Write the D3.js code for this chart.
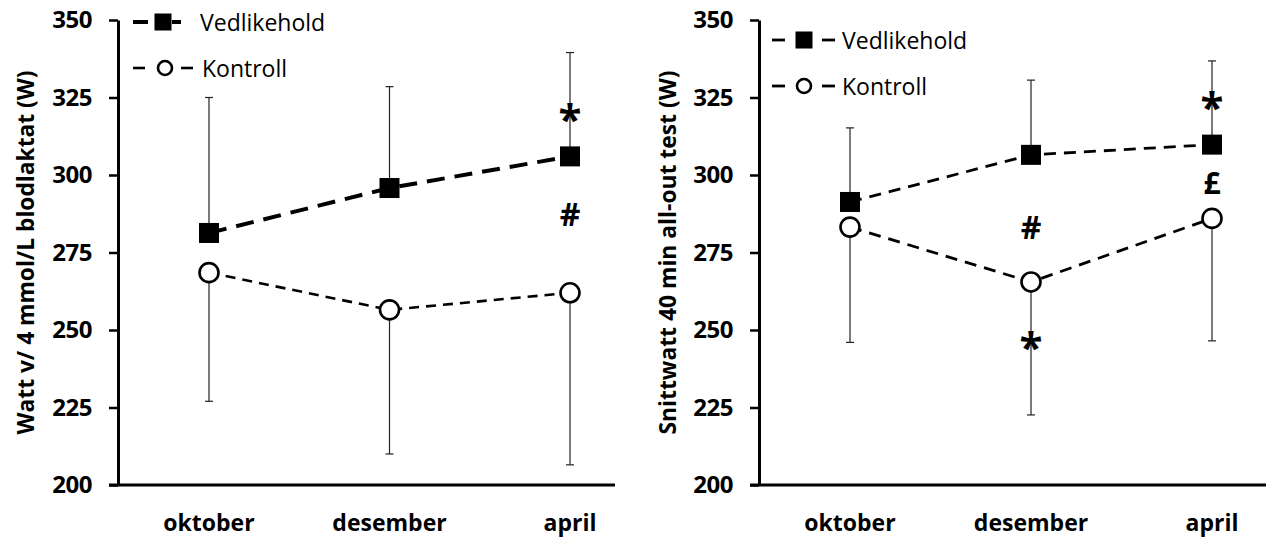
<!DOCTYPE html>
<html>
<head>
<meta charset="utf-8">
<script src="https://cdn.jsdelivr.net/npm/d3@7"></script>
<style>
  body { margin: 0; background: #fff; }
  text { font-family: "Open Sans", "Noto Sans", sans-serif; }
</style>
</head>
<body>
<svg id="chart" width="1266" height="539"></svg>
<script>
const months = ["oktober", "desember", "april"];
const yTicks = [200, 225, 250, 275, 300, 325, 350];

// left panel: watt at 4 mmol/L blood lactate
const leftVed = [281.3, 295.8, 306];
const leftVedUpper = [325, 328.5, 339.5];
const leftKon = [268.5, 256.5, 262];
const leftKonLower = [227, 210, 206.5];

// right panel: mean watt 40 min all-out test
const rightVed = [291.3, 306.5, 309.8];
const rightVedUpper = [315.2, 330.6, 336.8];
const rightKon = [283.2, 265.5, 286];
const rightKonLower = [246, 222.6, 246.5];

const svg = d3.select("#chart");

const panels = [
  {
    axisX: 118, xEnd: 615, first: 209, last: 570,
    title: "Watt v/ 4 mmol/L blodlaktat (W)", titleX: 25,
    ved: leftVed, vedUp: leftVedUpper, kon: leftKon, konLo: leftKonLower,
    vedWidth: 4, vedDash: "18,10", konWidth: 2.6, konDash: "10,7",
    legend: { dash1: [133, 148], sym: 163, dash2: [172, 181], textX: 200, y: 22, thick: true },
    notes: [
      { i: 2, v: 318.5, t: "*", size: 42 },
      { i: 2, v: 287.5, t: "#", size: 32 }
    ]
  },
  {
    axisX: 759, xEnd: 1266, first: 850, last: 1212,
    title: "Snittwatt 40 min all-out test (W)", titleX: 667,
    ved: rightVed, vedUp: rightVedUpper, kon: rightKon, konLo: rightKonLower,
    vedWidth: 2.8, vedDash: "12,8", konWidth: 2.8, konDash: "12,8",
    legend: { dash1: [772, 785], sym: 804, dash2: [822, 835], textX: 842, y: 40, thick: false },
    notes: [
      { i: 2, v: 322.5, t: "*", size: 42 },
      { i: 2, v: 297.5, t: "£", size: 30 },
      { i: 1, v: 283.5, t: "#", size: 32 },
      { i: 1, v: 245, t: "*", size: 42 }
    ]
  }
];

const y = d3.scaleLinear().domain([200, 350]).range([485, 20]);

panels.forEach(p => {
  const x = d3.scalePoint().domain(months).range([p.first, p.last]);
  const g = svg.append("g");

  // y axis
  const yAxis = g.append("g")
    .attr("transform", `translate(${p.axisX},0)`)
    .call(d3.axisLeft(y).tickValues(yTicks).tickSize(9).tickPadding(17).tickSizeOuter(0));
  yAxis.select(".domain").attr("stroke-width", 3);
  yAxis.selectAll(".tick line").attr("stroke-width", 2.5);
  yAxis.selectAll(".tick text")
    .attr("font-size", 24).attr("font-weight", "bold").attr("fill", "#000")
    .attr("letter-spacing", -0.5);

  // x axis line
  g.append("line")
    .attr("x1", p.axisX - 9).attr("x2", p.xEnd)
    .attr("y1", y(200)).attr("y2", y(200))
    .attr("stroke", "#000").attr("stroke-width", 3);

  g.selectAll(".xlab")
    .data(months)
    .enter()
    .append("text")
    .attr("x", d => x(d))
    .attr("y", 531)
    .attr("text-anchor", "middle")
    .attr("font-size", 23)
    .attr("font-weight", "bold")
    .text(d => d);

  // y title
  g.append("text")
    .attr("transform", `translate(${p.titleX},${y(275)}) rotate(-90)`)
    .attr("text-anchor", "middle")
    .attr("dominant-baseline", "central")
    .attr("font-size", 23)
    .attr("font-weight", "bold")
    .attr("textLength", 364)
    .attr("lengthAdjust", "spacingAndGlyphs")
    .text(p.title);

  // error bars: + for Vedlikehold, - for Kontroll
  const bars = months.map((m, i) => ({ m, from: p.ved[i], to: p.vedUp[i] }))
    .concat(months.map((m, i) => ({ m, from: p.kon[i], to: p.konLo[i] })));
  bars.forEach(b => {
    g.append("line")
      .attr("x1", x(b.m)).attr("x2", x(b.m))
      .attr("y1", y(b.from)).attr("y2", y(b.to))
      .attr("stroke", "#222").attr("stroke-width", 1.2);
    g.append("line")
      .attr("x1", x(b.m) - 4).attr("x2", x(b.m) + 4)
      .attr("y1", y(b.to)).attr("y2", y(b.to))
      .attr("stroke", "#222").attr("stroke-width", 1.2);
  });

  const line = d3.line().x((d, i) => x(months[i])).y(d => y(d));

  g.append("path")
    .datum(p.kon)
    .attr("d", line)
    .attr("fill", "none")
    .attr("stroke", "#000")
    .attr("stroke-width", p.konWidth)
    .attr("stroke-dasharray", p.konDash);

  g.append("path")
    .datum(p.ved)
    .attr("d", line)
    .attr("fill", "none")
    .attr("stroke", "#000")
    .attr("stroke-width", p.vedWidth)
    .attr("stroke-dasharray", p.vedDash);

  g.selectAll(".kon")
    .data(p.kon)
    .enter()
    .append("circle")
    .attr("cx", (d, i) => x(months[i]))
    .attr("cy", d => y(d))
    .attr("r", 9.5)
    .attr("fill", "#fff")
    .attr("stroke", "#000")
    .attr("stroke-width", 2.6);

  g.selectAll(".ved")
    .data(p.ved)
    .enter()
    .append("rect")
    .attr("x", (d, i) => x(months[i]) - 10)
    .attr("y", d => y(d) - 10)
    .attr("width", 20)
    .attr("height", 20)
    .attr("fill", "#000");

  // significance marks
  g.selectAll(".note")
    .data(p.notes)
    .enter()
    .append("text")
    .attr("x", d => x(months[d.i]))
    .attr("y", d => y(d.v))
    .attr("text-anchor", "middle")
    .attr("dominant-baseline", "central")
    .attr("font-size", d => d.size)
    .attr("font-weight", "bold")
    .attr("font-family", "'DejaVu Sans', sans-serif")
    .text(d => d.t);

  // legend
  const L = p.legend;
  const leg = [
    { name: "Vedlikehold", yy: L.y, w: L.thick ? p.vedWidth : p.vedWidth, sym: "rect" },
    { name: "Kontroll", yy: L.y + 46, w: p.konWidth, sym: "circle" }
  ];
  leg.forEach((l, k) => {
    const d1 = (k === 0 || !L.thick) ? L.dash1 : [L.dash1[0], L.dash1[0] + 12];
    const d2 = (k === 0 || !L.thick) ? L.dash2 : [181, 193];
    g.append("line")
      .attr("x1", d1[0]).attr("x2", d1[1])
      .attr("y1", l.yy).attr("y2", l.yy)
      .attr("stroke", "#000").attr("stroke-width", l.w);
    g.append("line")
      .attr("x1", d2[0]).attr("x2", d2[1])
      .attr("y1", l.yy).attr("y2", l.yy)
      .attr("stroke", "#000").attr("stroke-width", l.w);
    const cx = (k === 1 && L.thick) ? 165 : L.sym;
    if (l.sym === "rect") {
      g.append("rect")
        .attr("x", cx - 8.5).attr("y", l.yy - 8.5)
        .attr("width", 17).attr("height", 17)
        .attr("fill", "#000");
    } else {
      g.append("circle")
        .attr("cx", cx).attr("cy", l.yy).attr("r", 7)
        .attr("fill", "#fff").attr("stroke", "#000").attr("stroke-width", 2.6);
    }
    g.append("text")
      .attr("x", L.textX + (k === 1 && L.thick ? 2 : 0))
      .attr("y", l.yy)
      .attr("dominant-baseline", "central")
      .attr("font-size", 23)
      .text(l.name);
  });
});
</script>
</body>
</html>
